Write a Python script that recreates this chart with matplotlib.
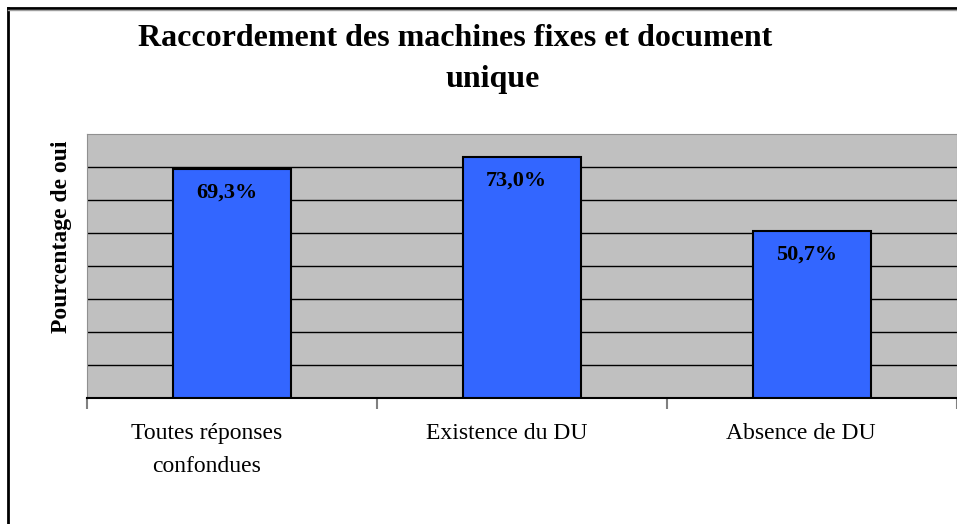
import matplotlib.pyplot as plt
from matplotlib.lines import Line2D
from matplotlib.transforms import ScaledTranslation

W, H = 957, 524

categories = ["Toutes réponses\nconfondues", "Existence du DU", "Absence de DU"]
values = [69.3, 73.0, 50.7]
value_labels = ["69,3%", "73,0%", "50,7%"]

plt.rcParams["font.family"] = ["Liberation Serif", "DejaVu Serif"]

fig = plt.figure(figsize=(W / 100, H / 100), dpi=100)

# outer chart frame (left and top edges visible)
fig.add_artist(Line2D([8 / W, 8 / W], [0, 1 - 8 / H], color="black", lw=2))
fig.add_artist(Line2D([8 / W, 1], [1 - 8 / H, 1 - 8 / H], color="black", lw=2))
fig.add_artist(Line2D([8 / W, 1], [1 - 10 / H, 1 - 10 / H], color="#a0a0a0", lw=1))

ax = fig.add_axes([87 / W, (H - 398) / H, (W - 87) / W, (398 - 134) / H])
ax.set_facecolor("#c0c0c0")

x = range(len(categories))
ax.bar(x, values, width=0.41, color="#3366ff", edgecolor="black",
       linewidth=1.5, zorder=3)

for xi, v, lab in zip(x, values, value_labels):
    ax.annotate(lab, xy=(xi, v), xytext=(-4, -17), textcoords="offset points",
                ha="center", va="center", fontsize=16, fontweight="bold",
                zorder=4)

ax.set_xlim(-0.5, 2.5)
ax.set_ylim(0, 80)
ax.set_yticks(range(10, 80, 10))
ax.yaxis.grid(True, color="black", linewidth=1, zorder=1)
ax.tick_params(axis="y", left=False, labelleft=False)

ax.set_xticks([-0.5, 0.5, 1.5, 2.5], minor=False)
ax.set_xticklabels([])
ax.tick_params(axis="x", which="major", length=8, color="#808080", width=1.5)
ax.set_xticks(list(x), minor=True)
ax.set_xticklabels(categories, minor=True, fontsize=17, linespacing=1.75)
ax.tick_params(axis="x", which="minor", length=0, pad=18)
for lbl, dx in zip(ax.get_xticklabels(minor=True), [-25, -15, -11]):
    lbl.set_transform(lbl.get_transform()
                      + ScaledTranslation(dx / 100, 0, fig.dpi_scale_trans))

for side in ["top", "right", "left"]:
    ax.spines[side].set_color("#909090")
ax.spines["bottom"].set_color("black")
ax.spines["bottom"].set_linewidth(1.5)

fig.text(62 / W, 1 - 237 / H, "Pourcentage de oui", rotation=90,
         ha="center", va="center", fontsize=17, fontweight="bold")

fig.text(455 / W, 1 - 38 / H, "Raccordement des machines fixes et document",
         ha="center", va="center", fontsize=23, fontweight="bold")
fig.text(493 / W, 1 - 80 / H, "unique",
         ha="center", va="center", fontsize=23, fontweight="bold")

fig.savefig("out.png", dpi=100)
